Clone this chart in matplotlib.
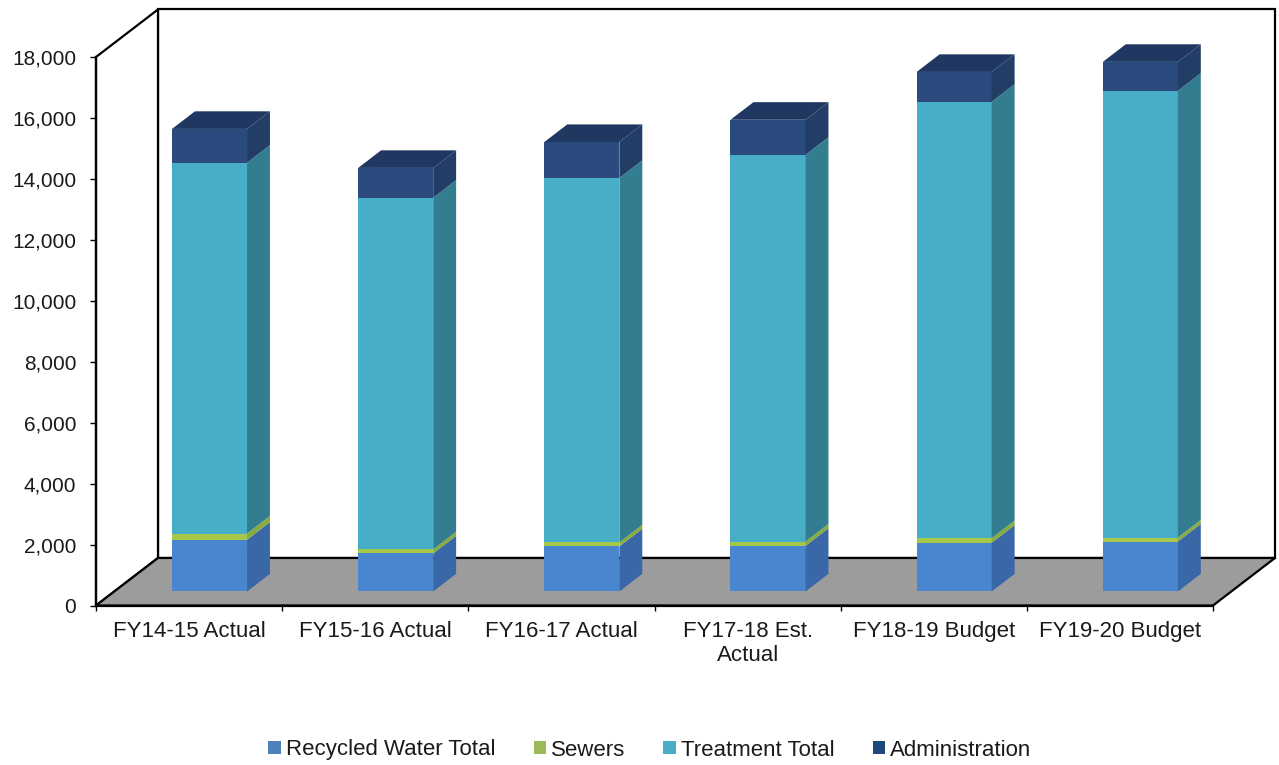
import matplotlib
matplotlib.use("Agg")
import matplotlib.pyplot as plt
from matplotlib.patches import Polygon, Patch

# data
categories = ["FY14-15 Actual", "FY15-16 Actual", "FY16-17 Actual",
              "FY17-18 Est.\nActual", "FY18-19 Budget", "FY19-20 Budget"]
recycled = [1700, 1250, 1480, 1500, 1600, 1640]
sewers = [200, 130, 130, 140, 150, 130]
treatment = [12170, 11540, 11960, 12690, 14320, 14660]
administration = [1110, 980, 1180, 1150, 980, 950]
series_names = ["Recycled Water Total", "Sewers", "Treatment Total", "Administration"]
yticks = list(range(0, 18001, 2000))

# look
front_cols = ["#4A86CE", "#A6C84A", "#48ADC7", "#2B4B7F"]
side_cols = ["#3A67A8", "#88AC3C", "#337D90", "#223E66"]
top_col = "#1F3761"
legend_cols = ["#4F81BD", "#9BBB59", "#4BACC6", "#1F497D"]
floor_col = "#9C9C9C"

# fake 3d depth: full floor depth in data units
DX = 0.333
DY = 1560
D0, D1 = 0.295, 0.665   # bar depth range (fraction of floor depth)
BAR_OFF, BAR_W = 0.31, 0.403

plt.rcParams['font.family'] = ['Liberation Sans', 'DejaVu Sans']
FS = 15
FS_X = 16
TXT = "#1a1a1a"


def proj(x, v, d):
	return (x + d * DX, v + d * DY)


def poly(ax, pts, fc, ec="none", lw=0, z=2):
	ax.add_patch(Polygon(pts, closed=True, facecolor=fc, edgecolor=ec,
						 linewidth=lw, clip_on=False, zorder=z))


fig = plt.figure(figsize=(12.79, 7.65), dpi=100)
ax = fig.add_axes([96 / 1279, (765 - 605.5) / 765, (1213 - 96) / 1279, (605.5 - 57) / 765])
n = len(categories)
ax.set_xlim(0, n)
ax.set_ylim(0, 18000)
ax.patch.set_visible(False)
for s in ["top", "right"]:
	ax.spines[s].set_visible(False)
for s in ["left", "bottom"]:
	ax.spines[s].set_linewidth(1.6)
	ax.spines[s].set_zorder(5)

# walls and floor
poly(ax, [(DX, DY), (n + DX, DY), (n + DX, 18000 + DY), (DX, 18000 + DY)], "white", "black", 1.6, 0.5)
poly(ax, [(0, 0), (0, 18000), (DX, 18000 + DY), (DX, DY)], "white", "black", 1.6, 0.6)
poly(ax, [(0, 0), (n, 0), (n + DX, DY), (DX, DY)], floor_col, "black", 1.6, 1)

# stacked bars
stacks = [recycled, sewers, treatment, administration]
for i in range(n):
	xl = i + BAR_OFF
	xr = xl + BAR_W
	base = 0
	for k, vals in enumerate(stacks):
		b, t = base, base + vals[i]
		poly(ax, [proj(xl, b, D0), proj(xr, b, D0), proj(xr, t, D0), proj(xl, t, D0)], front_cols[k])
		poly(ax, [proj(xr, b, D0), proj(xr, b, D1), proj(xr, t, D1), proj(xr, t, D0)], side_cols[k])
		base = t
	poly(ax, [proj(xl, base, D0), proj(xr, base, D0), proj(xr, base, D1), proj(xl, base, D1)], top_col)

# axes ticks
ax.set_yticks(yticks)
ax.set_yticklabels([f"{v:,}" for v in yticks], fontsize=FS, color=TXT)
ax.tick_params(axis="y", length=4.3, width=1, pad=10)
ax.set_xticks([i + 0.5 for i in range(n)])
ax.set_xticklabels(categories, fontsize=FS_X, color=TXT, linespacing=1.2)
ax.set_xticks(range(n + 1), minor=True)
ax.tick_params(axis="x", which="major", length=0, pad=11)
ax.tick_params(axis="x", which="minor", length=3.6, width=1)

handles = [Patch(facecolor=c, edgecolor="none", label=l) for c, l in zip(legend_cols, series_names)]
fig.legend(handles=handles, loc="center", bbox_to_anchor=(650 / 1279, 1 - 750 / 765), ncol=4,
		   frameon=False, fontsize=FS_X, handlelength=0.55, handleheight=0.55,
		   handletextpad=0.25, columnspacing=1.7, labelcolor=TXT)

fig.savefig("out.png", dpi=100)
